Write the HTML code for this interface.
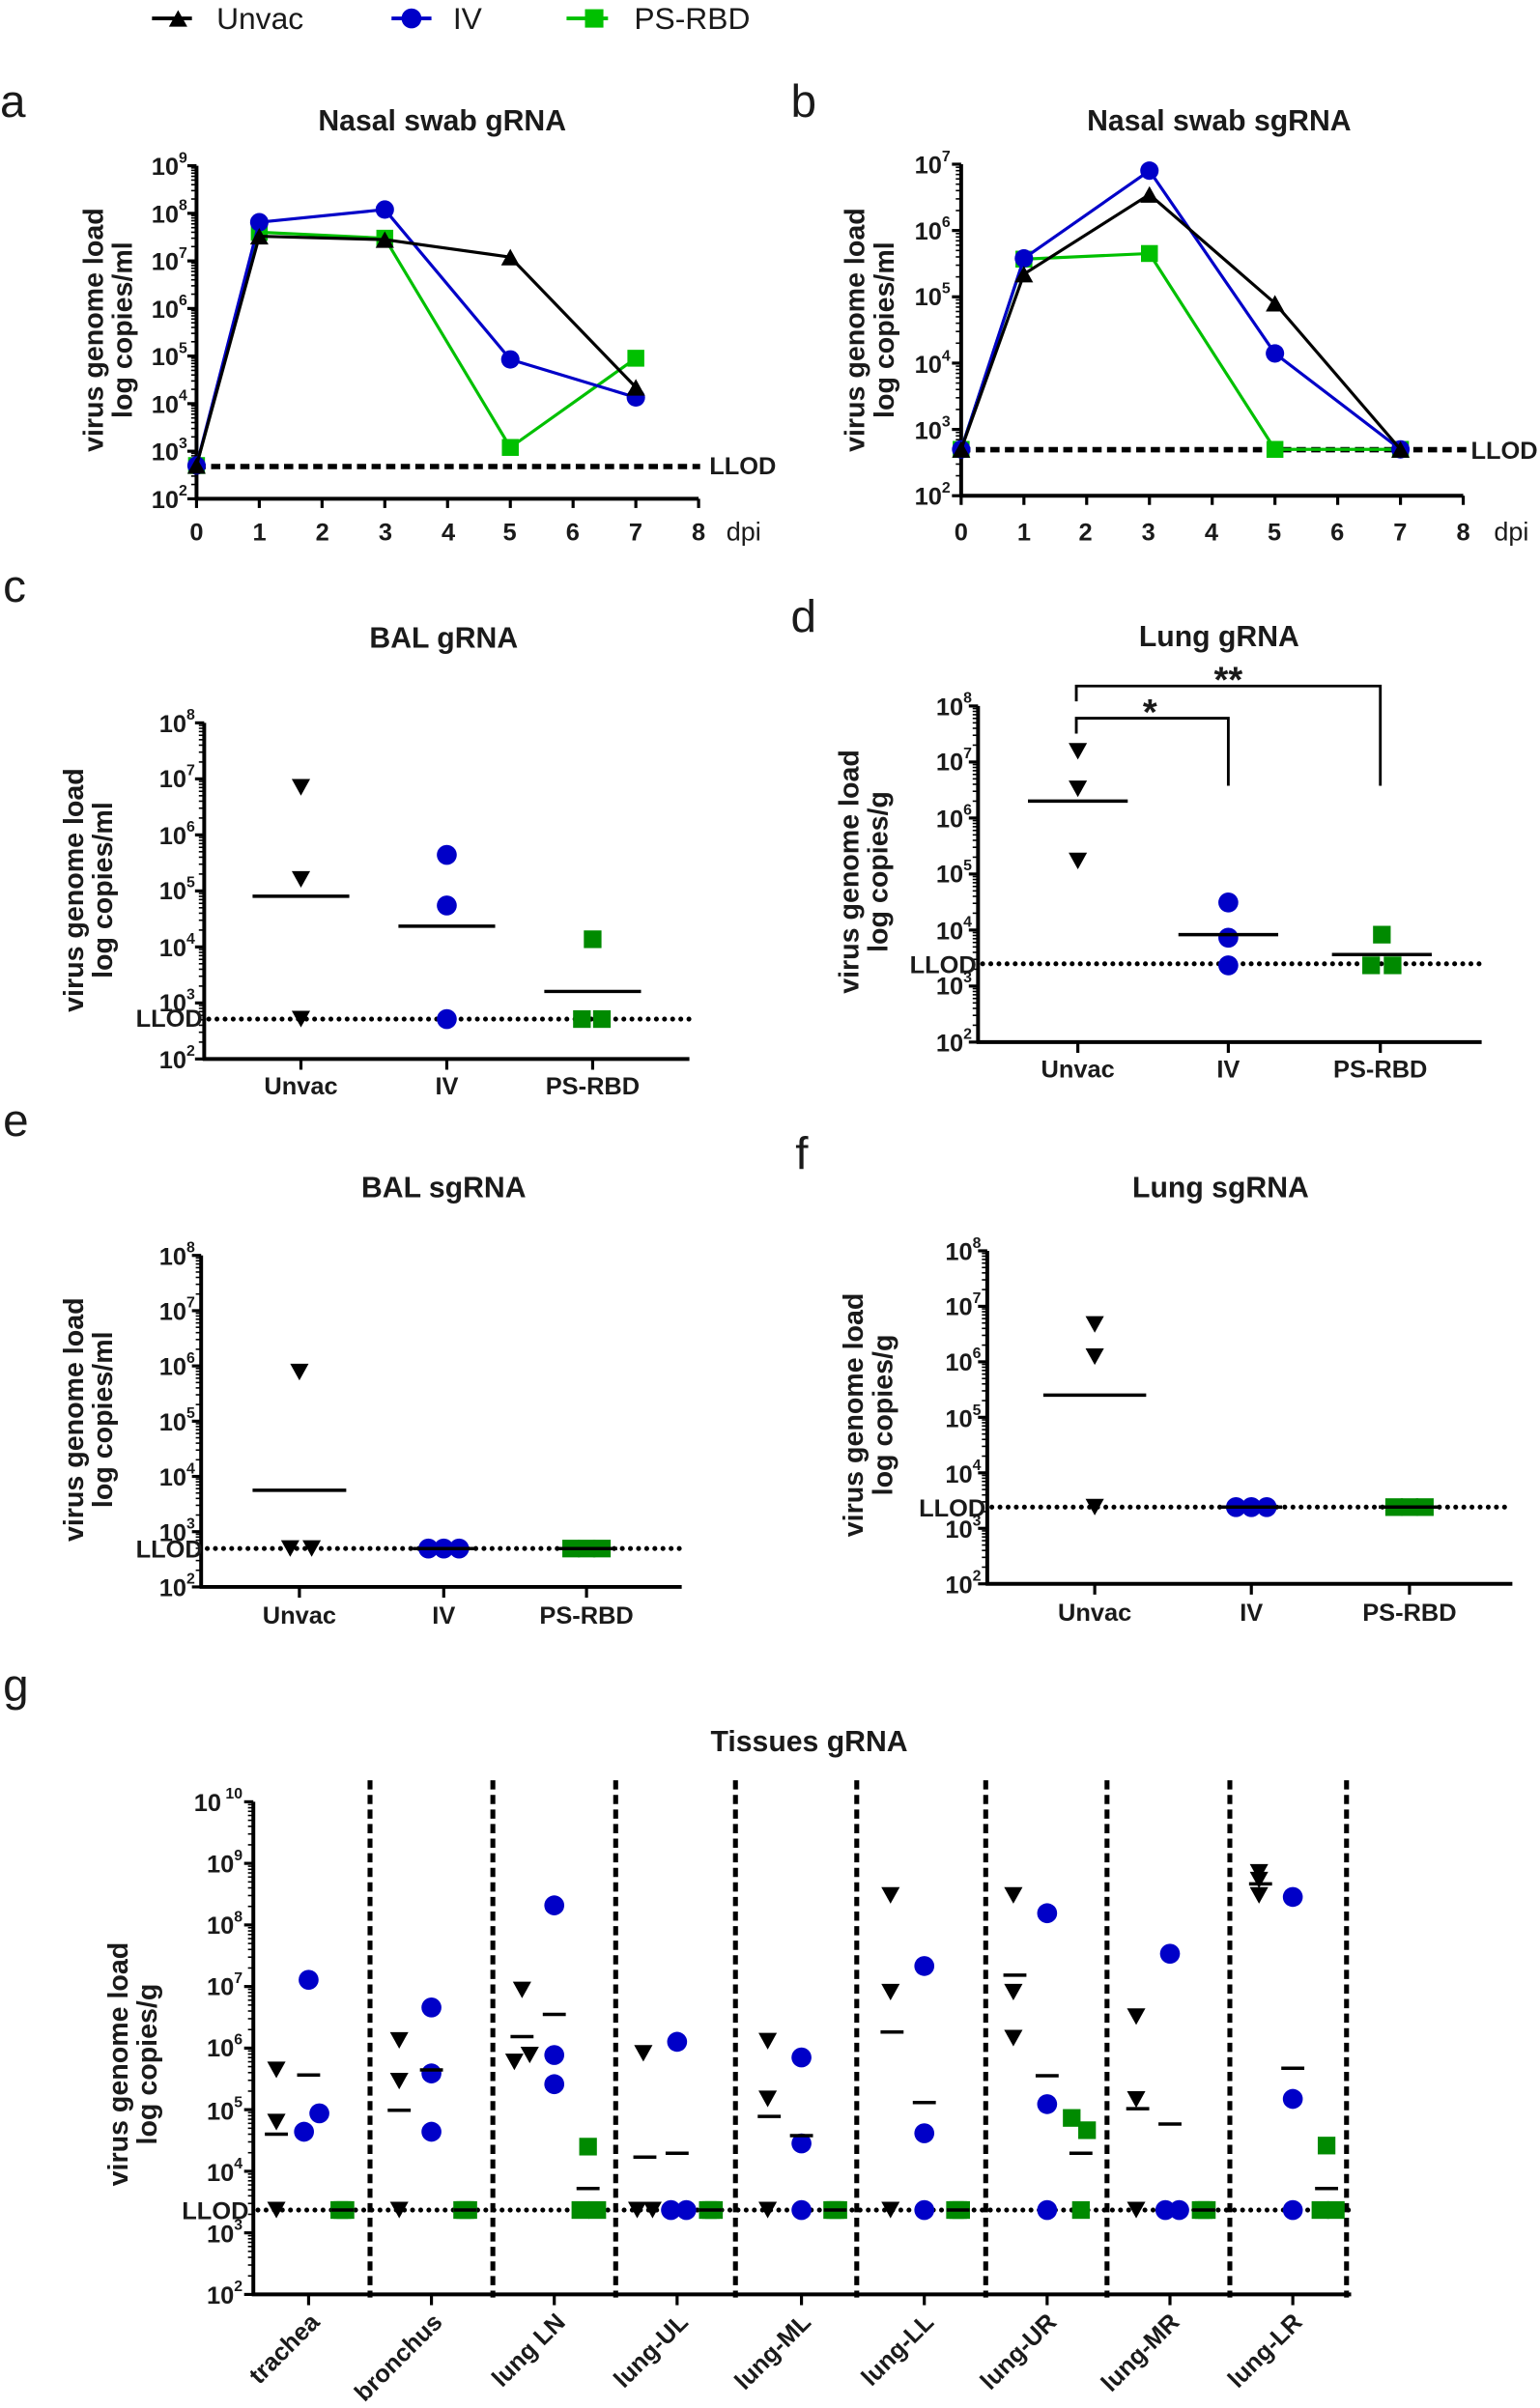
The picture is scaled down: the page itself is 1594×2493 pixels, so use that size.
<!DOCTYPE html>
<html><head><meta charset="utf-8">
<style>
html,body{margin:0;padding:0;background:#fff;}
svg{display:block;}
text{font-family:"Liberation Sans",sans-serif;fill:#1a1a1a;}
.b{font-weight:bold;}
.tk{font-weight:bold;font-size:16px;}
.sp{font-size:10px;}
</style></head>
<body>
<svg id="s" xmlns="http://www.w3.org/2000/svg" width="1594" height="2493" viewBox="0 0 1003 1569" preserveAspectRatio="none">
<rect width="1003" height="1569" fill="#fff"/>
<g id="shapes"></g>
<!-- legend -->
<text x="141" y="19" font-size="20">Unvac</text>
<text x="295" y="19" font-size="20">IV</text>
<text x="413" y="19" font-size="20">PS-RBD</text>

<!-- panel letters -->
<text x="0" y="76" font-size="30">a</text>
<text x="515" y="76" font-size="30">b</text>
<text x="2" y="392" font-size="30">c</text>
<text x="515" y="412" font-size="30">d</text>
<text x="2" y="740" font-size="30">e</text>
<text x="518" y="762" font-size="30">f</text>
<text x="2" y="1108" font-size="30">g</text>

<!-- titles -->
<text class="b" x="288" y="85" font-size="19" text-anchor="middle">Nasal swab gRNA</text>
<text class="b" x="794" y="85" font-size="19" text-anchor="middle">Nasal swab sgRNA</text>
<text class="b" x="289" y="422" font-size="19" text-anchor="middle">BAL gRNA</text>
<text class="b" x="794" y="421" font-size="19" text-anchor="middle">Lung gRNA</text>
<text class="b" x="289" y="780" font-size="19" text-anchor="middle">BAL sgRNA</text>
<text class="b" x="795" y="780" font-size="19" text-anchor="middle">Lung sgRNA</text>
<text class="b" x="527" y="1141" font-size="19" text-anchor="middle">Tissues gRNA</text>

<!-- y titles -->
<g class="b" font-size="18" text-anchor="middle">
<text transform="translate(67,215) rotate(-90)">virus genome load</text>
<text transform="translate(86,215) rotate(-90)">log copies/ml</text>
<text transform="translate(563,215) rotate(-90)">virus genome load</text>
<text transform="translate(582,215) rotate(-90)">log copies/ml</text>
<text transform="translate(54,580) rotate(-90)">virus genome load</text>
<text transform="translate(73,580) rotate(-90)">log copies/ml</text>
<text transform="translate(559,568) rotate(-90)">virus genome load</text>
<text transform="translate(578,568) rotate(-90)">log copies/g</text>
<text transform="translate(54,925) rotate(-90)">virus genome load</text>
<text transform="translate(73,925) rotate(-90)">log copies/ml</text>
<text transform="translate(562,922) rotate(-90)">virus genome load</text>
<text transform="translate(581,922) rotate(-90)">log copies/g</text>
<text transform="translate(83,1345) rotate(-90)">virus genome load</text>
<text transform="translate(102,1345) rotate(-90)">log copies/g</text>
</g>

<g class="tk" text-anchor="end">
<text x="122" y="114">10<tspan class="sp" dy="-8">9</tspan></text>
<text x="122" y="145">10<tspan class="sp" dy="-8">8</tspan></text>
<text x="122" y="176">10<tspan class="sp" dy="-8">7</tspan></text>
<text x="122" y="207">10<tspan class="sp" dy="-8">6</tspan></text>
<text x="122" y="238">10<tspan class="sp" dy="-8">5</tspan></text>
<text x="122" y="269">10<tspan class="sp" dy="-8">4</tspan></text>
<text x="122" y="300">10<tspan class="sp" dy="-8">3</tspan></text>
<text x="122" y="331">10<tspan class="sp" dy="-8">2</tspan></text>
<text x="619" y="113">10<tspan class="sp" dy="-8">7</tspan></text>
<text x="619" y="156">10<tspan class="sp" dy="-8">6</tspan></text>
<text x="619" y="199">10<tspan class="sp" dy="-8">5</tspan></text>
<text x="619" y="243">10<tspan class="sp" dy="-8">4</tspan></text>
<text x="619" y="286">10<tspan class="sp" dy="-8">3</tspan></text>
<text x="619" y="329">10<tspan class="sp" dy="-8">2</tspan></text>
<text x="127" y="477">10<tspan class="sp" dy="-8">8</tspan></text>
<text x="127" y="513">10<tspan class="sp" dy="-8">7</tspan></text>
<text x="127" y="550">10<tspan class="sp" dy="-8">6</tspan></text>
<text x="127" y="586">10<tspan class="sp" dy="-8">5</tspan></text>
<text x="127" y="623">10<tspan class="sp" dy="-8">4</tspan></text>
<text x="127" y="659">10<tspan class="sp" dy="-8">3</tspan></text>
<text x="127" y="696">10<tspan class="sp" dy="-8">2</tspan></text>
<text x="633" y="466">10<tspan class="sp" dy="-8">8</tspan></text>
<text x="633" y="502">10<tspan class="sp" dy="-8">7</tspan></text>
<text x="633" y="539">10<tspan class="sp" dy="-8">6</tspan></text>
<text x="633" y="575">10<tspan class="sp" dy="-8">5</tspan></text>
<text x="633" y="612">10<tspan class="sp" dy="-8">4</tspan></text>
<text x="633" y="648">10<tspan class="sp" dy="-8">3</tspan></text>
<text x="633" y="685">10<tspan class="sp" dy="-8">2</tspan></text>
<text x="127" y="824">10<tspan class="sp" dy="-8">8</tspan></text>
<text x="127" y="860">10<tspan class="sp" dy="-8">7</tspan></text>
<text x="127" y="896">10<tspan class="sp" dy="-8">6</tspan></text>
<text x="127" y="932">10<tspan class="sp" dy="-8">5</tspan></text>
<text x="127" y="968">10<tspan class="sp" dy="-8">4</tspan></text>
<text x="127" y="1004">10<tspan class="sp" dy="-8">3</tspan></text>
<text x="127" y="1040">10<tspan class="sp" dy="-8">2</tspan></text>
<text x="639" y="821">10<tspan class="sp" dy="-8">8</tspan></text>
<text x="639" y="857">10<tspan class="sp" dy="-8">7</tspan></text>
<text x="639" y="893">10<tspan class="sp" dy="-8">6</tspan></text>
<text x="639" y="930">10<tspan class="sp" dy="-8">5</tspan></text>
<text x="639" y="966">10<tspan class="sp" dy="-8">4</tspan></text>
<text x="639" y="1002">10<tspan class="sp" dy="-8">3</tspan></text>
<text x="639" y="1038">10<tspan class="sp" dy="-8">2</tspan></text>
<text x="158" y="1180">10<tspan class="sp" dy="-8"> 10</tspan></text>
<text x="158" y="1220">10<tspan class="sp" dy="-8">9</tspan></text>
<text x="158" y="1260">10<tspan class="sp" dy="-8">8</tspan></text>
<text x="158" y="1300">10<tspan class="sp" dy="-8">7</tspan></text>
<text x="158" y="1340">10<tspan class="sp" dy="-8">6</tspan></text>
<text x="158" y="1381">10<tspan class="sp" dy="-8">5</tspan></text>
<text x="158" y="1421">10<tspan class="sp" dy="-8">4</tspan></text>
<text x="158" y="1461">10<tspan class="sp" dy="-8">3</tspan></text>
<text x="158" y="1501">10<tspan class="sp" dy="-8">2</tspan></text>
</g>

<g class="b" font-size="16" text-anchor="middle">
<text x="128" y="352">0</text><text x="169" y="352">1</text><text x="210" y="352">2</text><text x="251" y="352">3</text><text x="292" y="352">4</text><text x="332" y="352">5</text><text x="373" y="352">6</text><text x="414" y="352">7</text><text x="455" y="352">8</text>
<text x="626" y="352">0</text><text x="667" y="352">1</text><text x="707" y="352">2</text><text x="748" y="352">3</text><text x="789" y="352">4</text><text x="830" y="352">5</text><text x="871" y="352">6</text><text x="912" y="352">7</text><text x="953" y="352">8</text>
</g>
<text x="473" y="352" font-size="17">dpi</text>
<text x="973" y="352" font-size="17">dpi</text>

<g class="b" font-size="16" text-anchor="middle">
<text x="196" y="713">Unvac</text><text x="291" y="713">IV</text><text x="386" y="713">PS-RBD</text>
<text x="702" y="702">Unvac</text><text x="800" y="702">IV</text><text x="899" y="702">PS-RBD</text>
<text x="195" y="1058">Unvac</text><text x="289" y="1058">IV</text><text x="382" y="1058">PS-RBD</text>
<text x="713" y="1056">Unvac</text><text x="815" y="1056">IV</text><text x="918" y="1056">PS-RBD</text>
</g>
<g class="b" font-size="16" text-anchor="end">
<text transform="translate(209,1514) rotate(-45)">trachea</text>
<text transform="translate(289,1514) rotate(-45)">bronchus</text>
<text transform="translate(369,1514) rotate(-45)">lung LN</text>
<text transform="translate(449,1514) rotate(-45)">lung-UL</text>
<text transform="translate(529,1514) rotate(-45)">lung-ML</text>
<text transform="translate(609,1514) rotate(-45)">lung-LL</text>
<text transform="translate(689,1514) rotate(-45)">lung-UR</text>
<text transform="translate(769,1514) rotate(-45)">lung-MR</text>
<text transform="translate(849,1514) rotate(-45)">lung-LR</text>
</g>

<g class="b" font-size="16">
<text x="462" y="309">LLOD</text>
<text x="958" y="299">LLOD</text>
</g>
<g font-size="16" text-anchor="end" style="font-weight:bold">
<text x="132" y="669">LLOD</text>
<text x="636" y="634">LLOD</text>
<text x="132" y="1015">LLOD</text>
<text x="642" y="988">LLOD</text>
<text x="162" y="1446">LLOD</text>
</g>
<text class="b" x="800" y="451" font-size="24" text-anchor="middle">**</text>
<text class="b" x="749" y="472" font-size="24" text-anchor="middle">*</text>
</svg>
<script>
(function(){
var NS="http://www.w3.org/2000/svg",G=document.getElementById("shapes");
function el(t,a){var e=document.createElementNS(NS,t);for(var k in a)e.setAttribute(k,a[k]);G.appendChild(e);return e;}
function line(x1,y1,x2,y2,c,w,extra){var a={x1:x1,y1:y1,x2:x2,y2:y2,stroke:c||"#000","stroke-width":w||2};if(extra)for(var k in extra)a[k]=extra[k];return el("line",a);}
var BK="#000",BL="#0000c8",GR="#00c000",DG="#008a00";
function tri(x,y,s,down,c){var h=s*0.9;var p=down?[[x-s/2,y-h/2],[x+s/2,y-h/2],[x,y+h/2]]:[[x-s/2,y+h/2],[x+s/2,y+h/2],[x,y-h/2]];el("polygon",{points:p.map(function(q){return q.join(",")}).join(" "),fill:c||BK});}
function circ(x,y,r,c){el("circle",{cx:x,cy:y,r:r,fill:c});}
function sq(x,y,s,c){el("rect",{x:x-s/2,y:y-s/2,width:s,height:s,fill:c});}
function yaxis(x,top,bot,dec0,dec1,xEnd){
  var d=(bot-top)/(dec1-dec0);
  line(x,top,x,bot+1,BK,2.5);
  line(x-1,bot,xEnd,bot,BK,2.5);
  for(var k=dec0;k<=dec1;k++){var y=bot-(k-dec0)*d;line(x-6,y,x,y,BK,2);
    if(k<dec1)for(var m=2;m<10;m++){var yy=y-Math.log10(m)*d;line(x-3.5,yy,x,yy,BK,1);}}
  return function(v){return bot-(Math.log10(v)-dec0)*d;};
}
line(99,12,125,12,BK,2.5);tri(116,12,12,false,BK);
line(255,12,281,12,BL,2.5);circ(268,12,6.5,BL);
line(369,12,396,12,GR,2.5);sq(387,12,12,GR);

var ya=yaxis(128,108,325,2,9,455);
for(var i=0;i<=8;i++){var xx=128+i*40.875;line(xx,325,xx,331,BK,2);}
line(128,304,456,304,BK,3.5,{"stroke-dasharray":"6,3.5"});
function xa(t){return 128+t*40.875;}
function series(xf,yf,pts,c,mk){var d=pts.map(function(p,i){return (i?"L":"M")+xf(p[0])+","+yf(p[1]);}).join(" ");el("path",{d:d,stroke:c,"stroke-width":2,fill:"none"});pts.forEach(function(p){var X=xf(p[0]),Y=yf(p[1]);if(mk==="c")circ(X,Y,6,c);else if(mk==="s")sq(X,Y,11,c);else tri(X,Y,12,false,c);});}
series(xa,ya,[[0,500],[1,4e7],[3,3e7],[5,1.2e3],[7,9e4]],GR,"s");
series(xa,ya,[[0,500],[1,6.5e7],[3,1.2e8],[5,8.5e4],[7,1.35e4]],BL,"c");
series(xa,ya,[[0,500],[1,3.3e7],[3,2.8e7],[5,1.2e7],[7,2.2e4]],BK,"t");

var yb=yaxis(626,107,323,2,7,953);
function xb(t){return 626+t*40.875;}
for(var i=0;i<=8;i++){line(xb(i),323,xb(i),329,BK,2);}
line(626,293,955,293,BK,3.5,{"stroke-dasharray":"6,3.5"});
series(xb,yb,[[0,500],[1,3.7e5],[3,4.5e5],[5,500],[7,500]],GR,"s");
series(xb,yb,[[0,500],[1,3.8e5],[3,8e6],[5,1.4e4],[7,500]],BL,"c");
series(xb,yb,[[0,500],[1,2.2e5],[3,3.5e6],[5,8e4],[7,500]],BK,"t");

function dotted(x1,x2,y){line(x1,y,x2,y,BK,3.2,{"stroke-dasharray":"0,5.3","stroke-linecap":"round"});}
function mean(xc,w,y){line(xc-w/2,y,xc+w/2,y,BK,2.2);}

yaxis(133,471,690,2,8,449);
[196,291,386].forEach(function(x){line(x,690,x,697,BK,2);});
dotted(136,449,664);
tri(196,513,12,true);tri(196,573,12,true);tri(196,664,12,true);
mean(196,63,584);
circ(291,557,6.5,BL);circ(291,590,6.5,BL);circ(291,664,6.5,BL);
mean(291,63,603.5);
sq(386,612,11.5,DG);sq(379,664,11.5,DG);sq(392,664,11.5,DG);
mean(386,63,646);

yaxis(637,460,679,2,8,965);
[702,800,899].forEach(function(x){line(x,679,x,686,BK,2);});
dotted(640,965,628);
tri(702,489.5,12,true);tri(702,514,12,true);tri(702,561,12,true);
mean(702,65,522);
circ(800,588,6.5,BL);circ(800,611,6.5,BL);circ(800,629,6.5,BL);
mean(800,65,609);
sq(900,609,11.5,DG);sq(893,629,11.5,DG);sq(907,629,11.5,DG);
mean(900,65,622);
el("path",{d:"M701,457 L701,447 L899,447 L899,512",stroke:BK,"stroke-width":1.8,fill:"none"});
el("path",{d:"M701,478 L701,468 L800,468 L800,512",stroke:BK,"stroke-width":1.8,fill:"none"});

yaxis(131,818,1034,2,8,444);
[195,289,382].forEach(function(x){line(x,1034,x,1041,BK,2);});
dotted(135,444,1009);
tri(195,894,12,true);tri(189,1009,12,true);tri(203,1009,12,true);
mean(195,61,971);
circ(279,1009,6.5,BL);circ(289,1009,6.5,BL);circ(299,1009,6.5,BL);
mean(289,40,1009);
sq(372,1009,11.5,DG);sq(382,1009,11.5,DG);sq(392,1009,11.5,DG);
mean(382,40,1009);

yaxis(643,815,1032,2,8,985);
[713,815,918].forEach(function(x){line(x,1032,x,1039,BK,2);});
dotted(646,985,982);
tri(713,863,12,true);tri(713,884,12,true);tri(713,982,12,true);
mean(713,67,909);
circ(805,982,6.5,BL);circ(815,982,6.5,BL);circ(825,982,6.5,BL);
mean(815,40,982);
sq(908,982,11.5,DG);sq(918,982,11.5,DG);sq(928,982,11.5,DG);
mean(918,40,982);

yaxis(165,1174,1495,2,10,880);
var L=1440;
[241,321,401,479,558,642,721,801,877].forEach(function(x){line(x,1160,x,1497,BK,3.2,{"stroke-dasharray":"6,3.5"});});
dotted(168,880,L);
var cats=[201,281,361,441,522,602,682,762,842];
cats.forEach(function(x){line(x,1495,x,1502,BK,2);});
var D=[
 {u:[[-21,1348.7],[-21,1382.7],[-21,L]],um:1390.6,v:[[0,1290],[-3,1389],[7,1377]],vm:1352,p:[[20,L],[22,L],[24,L]],pm:L},
 {u:[[-21,1329.5],[-21,1356],[-21,L]],um:1375,v:[[0,1308],[0,1351],[0,1389]],vm:1348.7,p:[[20,L],[22,L],[24,L]],pm:L},
 {u:[[-21,1296.6],[-26,1343.5],[-16,1339]],um:1327,v:[[0,1241.5],[0,1339],[0,1358]],vm:1312.5,p:[[22,1398.7],[17,L],[28,L]],pm:1426},
 {u:[[-22,1337.9],[-26,L],[-16,L]],um:1405.5,v:[[0,1330.4],[-4,L],[6,L]],vm:1403,p:[[20,L],[22,L],[24,L]],pm:L},
 {u:[[-22,1330],[-22,1367.6],[-22,L]],um:1379,v:[[0,1340.6],[0,1396.6],[0,L]],vm:1391.5,p:[[20,L],[22,L],[24,L]],pm:L},
 {u:[[-22,1235],[-22,1298],[-22,L]],um:1324,v:[[0,1281],[0,1390],[0,L]],vm:1370,p:[[20,L],[22,L],[24,L]],pm:L},
 {u:[[-22,1235],[-22,1298],[-22,1328]],um:1287,v:[[0,1246.6],[0,1371],[0,L]],vm:1352.5,p:[[16,1380],[26,1388],[22,L]],pm:1403},
 {u:[[-22,1314],[-22,1368],[-22,L]],um:1374,v:[[0,1273],[-3,L],[6,L]],vm:1384,p:[[20,L],[22,L],[24,L]],pm:L},
 {u:[[-22,1220],[-22,1225],[-22,1235]],um:1227.5,v:[[0,1236],[0,1367.6],[0,L]],vm:1347.6,p:[[22,1398],[18,L],[28,L]],pm:1426}
];
D.forEach(function(d,i){var c=cats[i];
 d.u.forEach(function(p){tri(c+p[0],p[1],12,true);});
 mean(c-21,15,d.um);
 d.v.forEach(function(p){circ(c+p[0],p[1],6.5,BL);});
 mean(c,15,d.vm);
 d.p.forEach(function(p){sq(c+p[0],p[1],11.5,DG);});
 mean(c+22,15,d.pm);
});
})();
</script>
</body></html>
